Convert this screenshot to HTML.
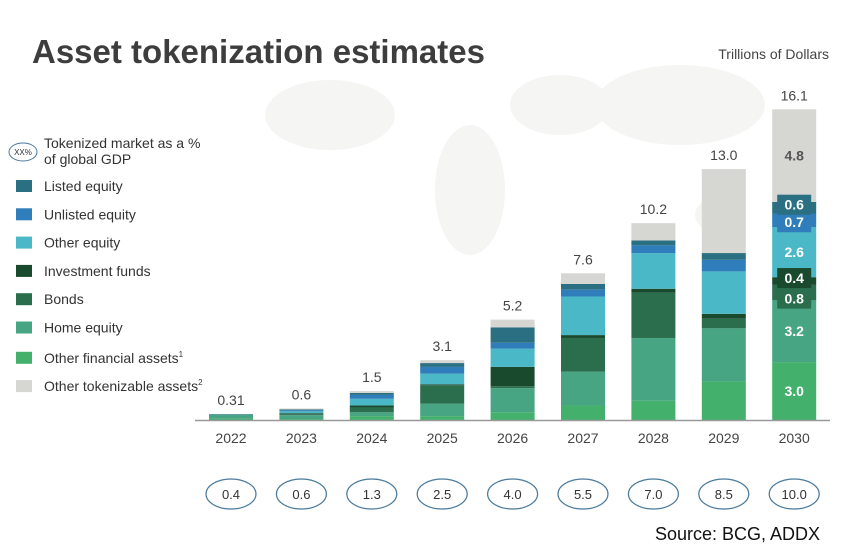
<!DOCTYPE html>
<html><head><meta charset="utf-8"><style>
body{margin:0;width:850px;height:550px;background:#fff;overflow:hidden;font-family:"Liberation Sans",sans-serif}
</style></head><body>
<svg width="850" height="550" style="position:absolute;left:0;top:0">
<g fill="#f5f5f4">
<ellipse cx="330" cy="115" rx="65" ry="35"/><ellipse cx="470" cy="190" rx="35" ry="65"/><ellipse cx="560" cy="105" rx="50" ry="30"/><ellipse cx="680" cy="105" rx="85" ry="40"/><ellipse cx="720" cy="215" rx="25" ry="18"/>
</g>
<text x="32" y="63" font-size="33" font-weight="bold" fill="#3d3d3d">Asset tokenization estimates</text>
<text x="829" y="59" font-size="14" fill="#444" text-anchor="end">Trillions of Dollars</text>
<g id="legend" font-size="14" fill="#333"></g>
<g id="bars"></g>
<line x1="195" y1="420.5" x2="830" y2="420.5" stroke="#999" stroke-width="1.5"/>
<g id="labels"></g>
<text x="820" y="540" font-size="18" fill="#111" text-anchor="end">Source: BCG, ADDX</text>
</svg>
<script>
const years=["2022","2023","2024","2025","2026","2027","2028","2029","2030"];
const totals=["0.31","0.6","1.5","3.1","5.2","7.6","10.2","13.0","16.1"];
const gdp=["0.4","0.6","1.3","2.5","4.0","5.5","7.0","8.5","10.0"];
const otherFinancial=[0.06,0.05,0.2,0.2,0.4,0.75,1.0,2.0,3.0];
const homeEquity=[0.2,0.2,0.2,0.65,1.25,1.75,3.25,2.75,3.2];
const bonds=[0.02,0.05,0.25,0.95,0.1,1.75,2.35,0.5,0.8];
const investmentFunds=[0.0,0.05,0.1,0.05,1.0,0.15,0.2,0.25,0.4];
const otherEquity=[0.01,0.1,0.35,0.55,0.95,2.0,1.85,2.2,2.6];
const unlistedEquity=[0.01,0.05,0.2,0.35,0.3,0.35,0.4,0.6,0.7];
const listedEquity=[0.01,0.05,0.1,0.2,0.8,0.3,0.25,0.35,0.6];
const otherTokenizable=[0.0,0.05,0.1,0.15,0.4,0.55,0.9,4.35,4.8];
const seriesNames=["Other financial assets","Home equity","Bonds","Investment funds","Other equity","Unlisted equity","Listed equity","Other tokenizable assets"];
const series=[otherFinancial,homeEquity,bonds,investmentFunds,otherEquity,unlistedEquity,listedEquity,otherTokenizable];
const colors=["#43b06c","#48a583","#2a6e4e","#1a4a2e","#4bb8c7","#2f7dba","#2b6f82","#d6d6d2"];
const NS="http://www.w3.org/2000/svg";
const base=420, k=19.3, x0=231, dx=70.4, bw=44;
const X=i=>x0+i*dx, Y=v=>base-v*k;
const badgeShift={2:6,3:-3,5:2,6:-3};
function mk(t,a,p){const e=document.createElementNS(NS,t);for(const n in a)e.setAttribute(n,a[n]);p.appendChild(e);return e;}
const bars=document.getElementById('bars'),labels=document.getElementById('labels'),legend=document.getElementById('legend');
years.forEach((yr,i)=>{
 let cum=0;
 series.forEach((s,j)=>{
  const v=s[i]; if(v<=0){return;}
  const r=mk('rect',{x:X(i)-bw/2,y:Y(cum+v),width:bw,height:v*k,fill:colors[j]},bars);
  
  
  if(i===years.length-1){
   let cy=Y(cum+v/2);
   if(v<1){
    cy+= (badgeShift[j]||0);
    const b=mk('rect',{x:X(i)-17,y:cy-10,width:34,height:20,fill:colors[j]},labels);
    
    
   }
   const t=mk('text',{x:X(i),y:cy+5,'font-size':14,'font-weight':'bold',fill:j===7?'#555':'#fff','text-anchor':'middle'},labels);
   t.textContent=v.toFixed(1);
   
   
  }
  cum+=v;
 });
 const tt=mk('text',{x:X(i),y:Y(cum)-9,'font-size':14,fill:'#444','text-anchor':'middle'},labels);
 tt.textContent=totals[i];
 
 
 const yl=mk('text',{x:X(i),y:443,'font-size':14,fill:'#444','text-anchor':'middle'},labels);
 yl.textContent=yr;
 
 
 const o=mk('ellipse',{cx:X(i),cy:494,rx:25,ry:15,fill:'none',stroke:'#4a7a9c','stroke-width':1.2},labels);
 
 
 const ot=mk('text',{x:X(i),y:499,'font-size':13,fill:'#333','text-anchor':'middle'},labels);
 ot.textContent=gdp[i];
 
 
});
const le=mk('ellipse',{cx:23,cy:152,rx:14,ry:9,fill:'none',stroke:'#4a7a9c','stroke-width':1},legend);


const lx=mk('text',{x:23,y:155,'font-size':8,'text-anchor':'middle'},legend);lx.textContent='XX%';


const l1=mk('text',{x:44,y:148},legend);l1.textContent='Tokenized market as a %';


const l2=mk('text',{x:44,y:164},legend);l2.textContent='of global GDP';


const order=[6,5,4,3,2,1,0,7];
order.forEach((j,n)=>{
 const y=186+n*28.3+(n>=6?2:0);
 const r=mk('rect',{x:16,y:y-6,width:16,height:12,fill:colors[j]},legend);
 
 
 const t=mk('text',{x:44,y:y+5},legend);
 t.textContent=seriesNames[j];
 if(j===0||j===7){const s=mk('tspan',{'font-size':8,dy:-6},t);s.textContent=j===0?'1':'2';}
 
 
});
</script>
</body></html>
